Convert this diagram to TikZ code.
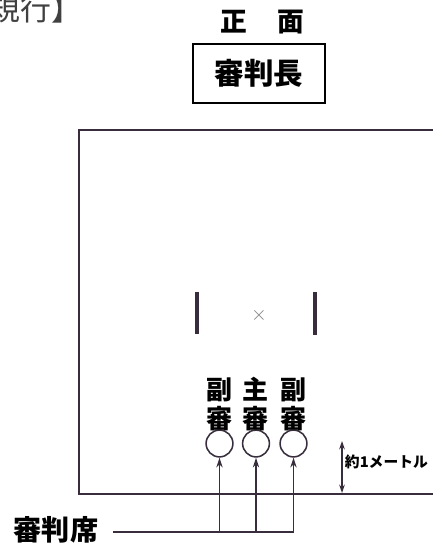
\documentclass[tikz,border=0pt]{standalone}
\usepackage{fontspec}
\usepackage{tikz}
\usetikzlibrary{positioning,arrows.meta}
\newfontfamily\cjk{Noto Sans CJK JP}
\definecolor{ink}{RGB}{55,45,60}

\begin{document}
\begin{tikzpicture}[x=0.025cm, y=-0.025cm, ink]
  \useasboundingbox (0,0) rectangle (433,545);
  \clip (0,0) rectangle (433,545);
  % cut-off heading at the top left
  \node[anchor=base east, inner sep=0pt, black!75, font=\cjk\fontsize{22}{22}\selectfont] (frag) at (83,21) {規行】};
  % front and head judge
  \node[black, font=\cjk\bfseries\fontsize{19}{19}\selectfont] (front) at (262,22) {正\hspace{0.75cm}面};
  \node[draw, line width=1.1pt, minimum width=3.3cm, minimum height=1.47cm, black,
        font=\cjk\bfseries\fontsize{21}{21}\selectfont] (head) at (259,73.5) {審判長};
  % court
  \draw[line width=1.3pt] (445,130) -- (79,130) -- (79,494) -- (445,494);
  \draw[line width=2.3pt] (197,292) -- (197,334);
  \draw[line width=2.3pt] (315,292) -- (315,335);
  \node[gray, font=\fontsize{15}{15}\selectfont] (mark) at (259,315) {$\times$};
  % judges' seats
  \foreach \i/\x/\t in {1/219.5/副, 2/256/主, 3/293.5/副} {
    \node[draw, circle, line width=1.1pt, minimum size=0.67cm, inner sep=0pt] (c\i) at (\x,443.5) {};
    \node[above=-2pt of c\i, align=center, inner sep=1pt, black,
          font=\cjk\bfseries\fontsize{18.5}{20}\selectfont] (l\i) {\t\\審};
  }
  \coordinate (base) at (0,532);
  \node[black, font=\cjk\bfseries\fontsize{20}{20}\selectfont] (bench) at (56,530) {審判席};
  \draw[line width=1.1pt] ([xshift=2.5mm]bench.east |- base) -- (c3.south |- base);
  \foreach \i in {1,2,3}
    \draw[line width=1pt, -{Stealth[length=7pt, width=4.5pt]}] (c\i.south |- base) -- (c\i.south);
  % distance mark
  \coordinate (mtop) at (342,441);
  \coordinate (mbot) at (342,493);
  \draw[line width=0.9pt, {Stealth[length=6pt, width=4pt]}-{Stealth[length=6pt, width=4pt]}] (mtop) -- (mbot);
  \node[anchor=west, inner sep=0.5pt, black, font=\cjk\bfseries\fontsize{10.5}{10.5}\selectfont] (dist) at (344,462) {約1メートル};
\end{tikzpicture}
\end{document}
